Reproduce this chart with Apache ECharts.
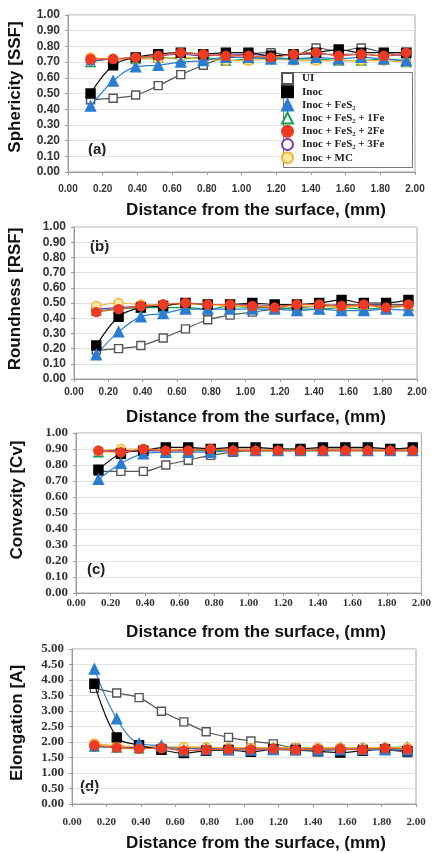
<!DOCTYPE html>
<html>
<head>
<meta charset="utf-8">
<script src="https://cdn.jsdelivr.net/npm/echarts@6/dist/echarts.min.js"></script>
<style>
  html, body { margin: 0; padding: 0; background: #fff; }
  #chart { width: 434px; height: 853px; }
</style>
</head>
<body>
<div id="chart"></div>
<script>
// Sampling depths below the casting surface (mm)
const depths = [0.13, 0.26, 0.39, 0.52, 0.65, 0.78, 0.91, 1.04, 1.17, 1.30, 1.43, 1.56, 1.69, 1.82, 1.95];

const seriesNames = ['UI', 'Inoc', 'Inoc + FeS\u2082', 'Inoc + FeS\u2082 + 1Fe', 'Inoc + FeS\u2082 + 2Fe', 'Inoc + FeS\u2082 + 3Fe', 'Inoc + MC'];

// (a) Sphericity [SSF]
const sphUI   = [0.46, 0.47, 0.49, 0.55, 0.62, 0.68, 0.73, 0.75, 0.76, 0.74, 0.79, 0.77, 0.79, 0.76, 0.74];
const sphInoc = [0.50, 0.68, 0.73, 0.75, 0.76, 0.75, 0.76, 0.76, 0.74, 0.75, 0.76, 0.78, 0.76, 0.76, 0.76];
const sphFeS2 = [0.42, 0.58, 0.67, 0.68, 0.70, 0.71, 0.73, 0.73, 0.72, 0.72, 0.73, 0.72, 0.73, 0.72, 0.71];
const sph1Fe  = [0.70, 0.72, 0.72, 0.73, 0.72, 0.73, 0.71, 0.72, 0.73, 0.72, 0.72, 0.71, 0.71, 0.72, 0.70];
const sph2Fe  = [0.72, 0.72, 0.73, 0.74, 0.76, 0.75, 0.74, 0.74, 0.73, 0.75, 0.76, 0.74, 0.75, 0.74, 0.76];
const sph3Fe  = [0.71, 0.72, 0.73, 0.74, 0.75, 0.74, 0.75, 0.75, 0.74, 0.75, 0.75, 0.75, 0.75, 0.74, 0.75];
const sphMC   = [0.73, 0.72, 0.72, 0.72, 0.73, 0.72, 0.71, 0.71, 0.72, 0.71, 0.71, 0.71, 0.71, 0.71, 0.70];

// (b) Roundness [RSF]
const rouUI   = [0.19, 0.20, 0.22, 0.27, 0.33, 0.39, 0.42, 0.44, 0.46, 0.47, 0.48, 0.49, 0.49, 0.49, 0.49];
const rouInoc = [0.22, 0.41, 0.47, 0.48, 0.50, 0.49, 0.49, 0.50, 0.49, 0.49, 0.50, 0.52, 0.50, 0.50, 0.52];
const rouFeS2 = [0.16, 0.31, 0.41, 0.43, 0.46, 0.46, 0.46, 0.46, 0.46, 0.45, 0.46, 0.45, 0.45, 0.46, 0.45];
const rou1Fe  = [0.45, 0.46, 0.47, 0.47, 0.47, 0.46, 0.48, 0.47, 0.47, 0.46, 0.46, 0.47, 0.46, 0.47, 0.48];
const rou2Fe  = [0.44, 0.46, 0.48, 0.49, 0.50, 0.49, 0.49, 0.48, 0.47, 0.49, 0.49, 0.48, 0.49, 0.47, 0.49];
const rou3Fe  = [0.46, 0.47, 0.48, 0.49, 0.49, 0.49, 0.49, 0.49, 0.48, 0.49, 0.49, 0.48, 0.49, 0.48, 0.49];
const rouMC   = [0.48, 0.50, 0.49, 0.49, 0.49, 0.49, 0.48, 0.48, 0.48, 0.48, 0.48, 0.47, 0.48, 0.48, 0.48];

// (c) Convexity [Cv]
const conUI   = [0.76, 0.76, 0.76, 0.80, 0.83, 0.86, 0.88, 0.89, 0.89, 0.89, 0.90, 0.90, 0.90, 0.90, 0.90];
const conInoc = [0.77, 0.87, 0.89, 0.91, 0.91, 0.90, 0.91, 0.91, 0.90, 0.90, 0.91, 0.91, 0.91, 0.90, 0.91];
const conFeS2 = [0.71, 0.81, 0.87, 0.88, 0.88, 0.88, 0.89, 0.89, 0.89, 0.89, 0.89, 0.89, 0.89, 0.89, 0.89];
const con1Fe  = [0.88, 0.89, 0.89, 0.89, 0.89, 0.89, 0.89, 0.89, 0.89, 0.89, 0.89, 0.89, 0.89, 0.89, 0.89];
const con2Fe  = [0.89, 0.88, 0.90, 0.89, 0.89, 0.90, 0.89, 0.89, 0.89, 0.89, 0.89, 0.89, 0.89, 0.89, 0.89];
const con3Fe  = [0.89, 0.89, 0.89, 0.89, 0.90, 0.90, 0.90, 0.90, 0.90, 0.90, 0.90, 0.90, 0.90, 0.90, 0.90];
const conMC   = [0.89, 0.90, 0.90, 0.90, 0.90, 0.90, 0.90, 0.90, 0.90, 0.90, 0.90, 0.90, 0.90, 0.90, 0.90];

// (d) Elongation [A]
const eloUI   = [3.73, 3.58, 3.43, 2.99, 2.65, 2.33, 2.15, 2.03, 1.94, 1.80, 1.72, 1.76, 1.78, 1.75, 1.66];
const eloInoc = [3.88, 2.15, 1.90, 1.75, 1.64, 1.72, 1.74, 1.68, 1.76, 1.74, 1.70, 1.66, 1.72, 1.76, 1.70];
const eloFeS2 = [4.35, 2.75, 1.95, 1.88, 1.72, 1.76, 1.75, 1.74, 1.76, 1.75, 1.74, 1.75, 1.76, 1.75, 1.74];
const elo1Fe  = [1.85, 1.82, 1.80, 1.82, 1.80, 1.82, 1.80, 1.80, 1.82, 1.80, 1.80, 1.82, 1.80, 1.82, 1.84];
const elo2Fe  = [1.90, 1.82, 1.78, 1.80, 1.72, 1.75, 1.76, 1.76, 1.78, 1.75, 1.77, 1.78, 1.75, 1.80, 1.76];
const elo3Fe  = [1.86, 1.84, 1.82, 1.83, 1.80, 1.80, 1.80, 1.81, 1.80, 1.80, 1.80, 1.80, 1.80, 1.80, 1.80];
const eloMC   = [1.95, 1.88, 1.85, 1.84, 1.84, 1.83, 1.82, 1.82, 1.82, 1.82, 1.82, 1.82, 1.82, 1.82, 1.82];

// Tick values for the axes
const xTicks = { min: 0, max: 2, interval: 0.2 };
const fracTicks = { min: 0, max: 1, interval: 0.1 };
const elongTicks = { min: 0, max: 5, interval: 0.5 };

const xTitle = 'Distance from the surface, (mm)';

const panels = [
  { tag: '(a)', yName: 'Sphericity [SSF]', ticks: fracTicks, sets: [sphUI, sphInoc, sphFeS2, sph1Fe, sph2Fe, sph3Fe, sphMC] },
  { tag: '(b)', yName: 'Roundness [RSF]',  ticks: fracTicks, sets: [rouUI, rouInoc, rouFeS2, rou1Fe, rou2Fe, rou3Fe, rouMC] },
  { tag: '(c)', yName: 'Convexity [Cv]',   ticks: fracTicks, sets: [conUI, conInoc, conFeS2, con1Fe, con2Fe, con3Fe, conMC] },
  { tag: '(d)', yName: 'Elongation [A]',   ticks: elongTicks, sets: [eloUI, eloInoc, eloFeS2, elo1Fe, elo2Fe, elo3Fe, eloMC] }
];

// Plot-area boxes, label spacing and title anchors per panel
const layout = [
  { left: 68, top: 15,  width: 347, height: 157, xMargin: 12, serif: false, tagX: 88, tagY: 142, yTitle: [15, 87],  xTitleY: 210 },
  { left: 74, top: 227, width: 343, height: 152, xMargin: 8,  serif: false, tagX: 90, tagY: 239, yTitle: [15, 299], xTitleY: 417 },
  { left: 76, top: 433, width: 346, height: 160, xMargin: 5,  serif: true,  tagX: 87, tagY: 562, yTitle: [17, 500], xTitleY: 632 },
  { left: 72, top: 649, width: 344, height: 155, xMargin: 13, serif: true,  tagX: 80, tagY: 779, yTitle: [17, 723], xTitleY: 843 }
];

// Marker / line appearance for each series
const looks = [
  { symbol: 'rect',     size: 8,  fill: '#ffffff', stroke: '#555555', line: '#555555', z: 2 },
  { symbol: 'rect',     size: 9,  fill: '#000000', stroke: '#000000', line: '#111111', z: 3 },
  { symbol: 'triangle', size: 10, fill: '#2b7cd3', stroke: '#2b7cd3', line: '#2b7cd3', z: 3 },
  { symbol: 'triangle', size: 9,  fill: '#ffffff', stroke: '#10a050', line: '#10a050', z: 2 },
  { symbol: 'circle',   size: 9,  fill: '#f03a22', stroke: '#f03a22', line: '#f05a2a', z: 5 },
  { symbol: 'circle',   size: 9,  fill: '#ffffff', stroke: '#7b3aa8', line: '#7b3aa8', z: 2 },
  { symbol: 'circle',   size: 9,  fill: '#fde9a8', stroke: '#f2b431', line: '#f2b431', z: 2 }
];

const sansBold = { fontFamily: 'Liberation Sans, Arial, sans-serif', fontWeight: 'bold' };
const serifBold = { fontFamily: 'Liberation Serif, Times New Roman, serif', fontWeight: 'bold' };

const grids = [], xAxes = [], yAxes = [], series = [], graphics = [];

panels.forEach((p, i) => {
  const L = layout[i];
  const tickFont = L.serif ? serifBold : sansBold;
  const ySize = L.serif ? 13 : 12;
  const xSize = L.serif ? 11 : 10;
  grids.push({ left: L.left, top: L.top, width: L.width, height: L.height, show: true, borderColor: '#a8a8a8', borderWidth: 1, backgroundColor: '#ffffff' });
  xAxes.push({
    type: 'value', gridIndex: i, min: xTicks.min, max: xTicks.max, interval: xTicks.interval,
    axisLine: { onZero: false, lineStyle: { color: '#9a9a9a', width: 1 } },
    axisTick: { show: true, length: 3, lineStyle: { color: '#9a9a9a' } },
    axisLabel: Object.assign({ fontSize: xSize, color: '#333', margin: L.xMargin, formatter: v => v.toFixed(2) }, tickFont),
    splitLine: { show: false }
  });
  yAxes.push({
    type: 'value', gridIndex: i, min: p.ticks.min, max: p.ticks.max, interval: p.ticks.interval,
    axisLine: { show: true, lineStyle: { color: '#9a9a9a', width: 1 } },
    axisTick: { show: true, length: 3, lineStyle: { color: '#9a9a9a' } },
    axisLabel: Object.assign({ fontSize: ySize, color: '#333', margin: 8, formatter: v => v.toFixed(2) }, tickFont),
    splitLine: { show: true, lineStyle: { color: '#e2e2e2', width: 1 } }
  });
  p.sets.forEach((vals, k) => {
    const lk = looks[k];
    series.push({
      name: seriesNames[k], type: 'line', xAxisIndex: i, yAxisIndex: i,
      data: depths.map((d, j) => [d, vals[j]]),
      smooth: 0.35, symbol: lk.symbol, symbolSize: lk.size, showAllSymbol: true, z: lk.z,
      lineStyle: { color: lk.line, width: 1.2 },
      itemStyle: { color: lk.fill, borderColor: lk.stroke, borderWidth: 1.4 },
      emphasis: { disabled: true }, animation: false
    });
  });
  graphics.push({ type: 'text', left: L.tagX, top: L.tagY, style: Object.assign({ text: p.tag, fontSize: 15, fill: '#222' }, sansBold) });
  graphics.push({ type: 'text', x: L.yTitle[0], y: L.yTitle[1], rotation: Math.PI / 2,
    style: Object.assign({ text: p.yName, fontSize: 17, fill: '#111', align: 'center', verticalAlign: 'middle' }, sansBold) });
  graphics.push({ type: 'text', x: 256, y: L.xTitleY,
    style: Object.assign({ text: xTitle, fontSize: 17, fill: '#111', align: 'center', verticalAlign: 'middle' }, sansBold) });
});

// Frame behind the legend entries
graphics.push({ type: 'rect', shape: { x: 283.5, y: 72.5, width: 129, height: 95 }, z: 3,
  style: { fill: '#ffffff', stroke: '#777777', lineWidth: 1 } });

const chart = echarts.init(document.getElementById('chart'), null, { renderer: 'canvas' });
chart.setOption({
  backgroundColor: '#ffffff',
  animation: false,
  grid: grids,
  xAxis: xAxes,
  yAxis: yAxes,
  series: series,
  graphic: graphics,
  legend: {
    left: 278, top: 72, orient: 'vertical', z: 6,
    padding: [0, 4, 0, 3], itemGap: 0.2, itemWidth: 11, itemHeight: 11,
    textStyle: Object.assign({ fontSize: 11, color: '#222', padding: [0, 0, 0, 4] }, serifBold),
    data: seriesNames.map((n, k) => ({ name: n, icon: looks[k].symbol })),
    selectedMode: false
  }
});
</script>
</body>
</html>
